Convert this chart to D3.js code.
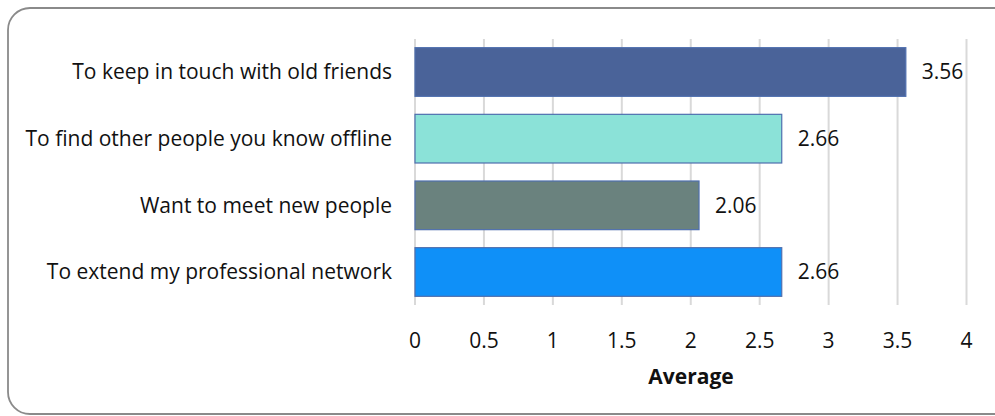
<!DOCTYPE html>
<html><head><meta charset="utf-8">
<script src="https://cdn.jsdelivr.net/npm/d3@7"></script>
<style>body{margin:0;background:#fff;} svg{display:block;}</style>
</head><body>
<svg id="c" width="995" height="416"></svg>
<script>
const categories = ["To keep in touch with old friends","To find other people you know offline","Want to meet new people","To extend my professional network"];
const values = [3.56, 2.66, 2.06, 2.66];
const colors = ["#4A6399","#8BE2D8","#6A827E","#0F90F8"];
const ticks = [0,0.5,1,1.5,2,2.5,3,3.5,4];
const axisTitle = "Average";

const svg = d3.select("#c");
const font = "'Open Sans', sans-serif";
const fs = 21;
svg.append("rect").attr("x",8).attr("y",8).attr("width",1010).attr("height",406)
  .attr("rx",22).attr("fill","#fff").attr("stroke","#8a8a8a").attr("stroke-width",1.8);

const x = d3.scaleLinear().domain([0,4]).range([415,966.5]);
const y = d3.scaleBand().domain(categories).range([39,305]).paddingInner(0.27).paddingOuter(0.13);

svg.append("g").selectAll("line").data(ticks).join("line")
  .attr("x1",d=>x(d)).attr("x2",d=>x(d)).attr("y1",39).attr("y2",305)
  .attr("stroke","#d9d9d9").attr("stroke-width",2);

svg.append("g").selectAll("rect").data(values).join("rect")
  .attr("x",x(0)).attr("y",(d,i)=>y(categories[i]))
  .attr("width",d=>x(d)-x(0)).attr("height",y.bandwidth())
  .attr("fill",(d,i)=>colors[i]).attr("stroke","#4F6FAE").attr("stroke-width",1.2);

svg.append("g").selectAll("text").data(values).join("text")
  .attr("x",d=>x(d)+16).attr("y",(d,i)=>y(categories[i])+y.bandwidth()/2)
  .attr("dy","0.35em").attr("font-family",font).attr("font-size",fs).attr("fill","#111")
  .text(d=>d.toFixed(2));

svg.append("g").selectAll("text").data(categories).join("text")
  .attr("x",392).attr("y",d=>y(d)+y.bandwidth()/2).attr("dy","0.35em")
  .attr("text-anchor","end").attr("font-family",font).attr("font-size",fs).attr("fill","#111")
  .text(d=>d);

svg.append("g").selectAll("text").data(ticks).join("text")
  .attr("x",d=>x(d)).attr("y",341).attr("dy","0.35em").attr("text-anchor","middle")
  .attr("font-family",font).attr("font-size",fs).attr("fill","#111").text(d=>d);

svg.append("text").attr("x",691).attr("y",377).attr("dy","0.35em").attr("text-anchor","middle")
  .attr("font-family",font).attr("font-size",fs).attr("font-weight","bold").attr("fill","#111").text(axisTitle);
</script>
</body></html>
